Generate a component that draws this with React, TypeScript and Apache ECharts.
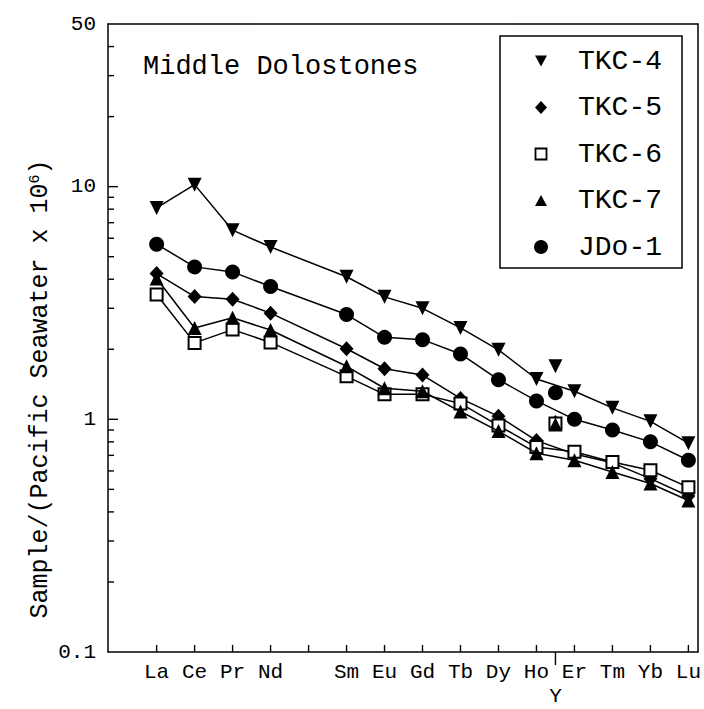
import React, { useEffect, useRef } from 'react';
import * as echarts from 'echarts';

// Order of the elements along the x axis (Pm keeps its slot but carries no data)
const AXIS_ORDER = ['La', 'Ce', 'Pr', 'Nd', 'Pm', 'Sm', 'Eu', 'Gd', 'Tb', 'Dy', 'Ho', 'Er', 'Tm', 'Yb', 'Lu'];
// Elements that are measured and labelled
const REE = ['La', 'Ce', 'Pr', 'Nd', 'Sm', 'Eu', 'Gd', 'Tb', 'Dy', 'Ho', 'Er', 'Tm', 'Yb', 'Lu'];
// Yttrium is plotted between Ho and Er
const Y_POSITION = 11.5;

// Seawater-normalised concentrations
const TKC4 = [8.1, 10.2, 6.5, 5.5, 4.1, 3.36, 3.0, 2.47, 1.99, 1.49, 1.32, 1.12, 0.98, 0.79];
const TKC5 = [4.23, 3.37, 3.28, 2.86, 2.01, 1.65, 1.55, 1.23, 1.03, 0.81, 0.71, 0.65, 0.556, 0.468];
const TKC6 = [3.44, 2.13, 2.43, 2.14, 1.53, 1.28, 1.28, 1.17, 0.94, 0.76, 0.725, 0.656, 0.604, 0.51];
const TKC7 = [4.03, 2.47, 2.73, 2.42, 1.69, 1.36, 1.32, 1.08, 0.89, 0.715, 0.667, 0.594, 0.53, 0.448];
const JDO1 = [5.66, 4.52, 4.3, 3.72, 2.82, 2.25, 2.2, 1.91, 1.48, 1.2, 1.0, 0.9, 0.8, 0.667];

// Yttrium values
const TKC4_Y = 1.69;
const TKC5_Y = 0.97;
const TKC6_Y = 0.96;
const TKC7_Y = 0.95;
const JDO1_Y = 1.3;

const SAMPLE_NAMES = ['TKC-4', 'TKC-5', 'TKC-6', 'TKC-7', 'JDo-1'];

// Log-axis labels and ticks
const MAJOR_TICKS = [0.1, 1, 10, 50];
const MAJOR_LABELS = ['0.1', '1', '10', '50'];
const INNER_MAJOR_TICKS = [1, 10];
const MINOR_TICKS = [0.2, 0.3, 0.4, 0.5, 0.6, 0.7, 0.8, 0.9, 2, 3, 4, 5, 6, 7, 8, 9, 20, 30, 40];

const Y_MIN = 0.1;
const Y_MAX = 50;
const X_MIN = -0.28;
const X_MAX = 15.25;

const FONT = '"Liberation Mono", "DejaVu Sans Mono", monospace';

const DOWN_TRIANGLE = 'path://M0,0L14,0L7,13Z';
const UP_TRIANGLE = 'path://M7,0L14,13L0,13Z';

const MARKERS: Record<string, { symbol: string; size: number | number[]; fill: string; border: number }> = {
  'TKC-4': { symbol: DOWN_TRIANGLE, size: [14, 14], fill: '#000', border: 0 },
  'TKC-5': { symbol: 'diamond', size: [14, 15], fill: '#000', border: 0 },
  'TKC-6': { symbol: 'rect', size: 12, fill: '#fff', border: 2 },
  'TKC-7': { symbol: UP_TRIANGLE, size: [14, 14], fill: '#000', border: 0 },
  'JDo-1': { symbol: 'circle', size: 15, fill: '#000', border: 0 },
};

// Legend glyphs, drawn around the origin of each legend row
function legendGlyph(name: string) {
  const black = { fill: '#000' };
  switch (name) {
    case 'TKC-4':
      return { type: 'polygon', shape: { points: [[-6, -5.5], [6, -5.5], [0, 5.5]] }, style: black };
    case 'TKC-5':
      return { type: 'polygon', shape: { points: [[0, -6.5], [6, 0], [0, 6.5], [-6, 0]] }, style: black };
    case 'TKC-6':
      return {
        type: 'rect',
        shape: { x: -5.5, y: -5.5, width: 11, height: 11 },
        style: { fill: '#fff', stroke: '#000', lineWidth: 1.8 },
      };
    case 'TKC-7':
      return { type: 'polygon', shape: { points: [[0, -5.5], [6, 5.5], [-6, 5.5]] }, style: black };
    default:
      return { type: 'circle', shape: { cx: 0, cy: 0, r: 7 }, style: black };
  }
}

const pos = (el: string) => AXIS_ORDER.indexOf(el) + 1;

// A short tick segment drawn as a two-point line through the axis scales
function tickSegment(id: string, a: number[], b: number[]) {
  return {
    type: 'line',
    id,
    xAxisIndex: 0,
    yAxisIndex: 0,
    data: [a, b],
    symbol: 'none',
    silent: true,
    clip: false,
    z: 1,
    lineStyle: { color: '#000', width: 1.4 },
  };
}

function buildTickSeries() {
  // Tick lengths: 7 px up, 13 px down (log factors), 10 px / 6 px across (axis units)
  const upFactor = Math.pow(10, 7 / 231.5);
  const downFactor = Math.pow(10, -13 / 231.5);
  const pxPerUnit = 590 / (X_MAX - X_MIN);
  const majorLen = 10 / pxPerUnit;
  const minorLen = 6 / pxPerUnit;
  const out: any[] = [];
  AXIS_ORDER.forEach((el, i) => {
    out.push(tickSegment('xt-' + i, [pos(el), Y_MIN], [pos(el), Y_MIN * upFactor]));
  });
  out.push(tickSegment('yt', [Y_POSITION, Y_MIN], [Y_POSITION, Y_MIN * downFactor]));
  INNER_MAJOR_TICKS.forEach((t, i) => {
    out.push(tickSegment('mj-' + i, [X_MIN, t], [X_MIN + majorLen, t]));
  });
  MINOR_TICKS.forEach((t, i) => {
    out.push(tickSegment('mn-' + i, [X_MIN, t], [X_MIN + minorLen, t]));
  });
  return out;
}

function buildOption(): any {
  const values = [TKC4, TKC5, TKC6, TKC7, JDO1];
  const yValues = [TKC4_Y, TKC5_Y, TKC6_Y, TKC7_Y, JDO1_Y];

  const lineSeries = SAMPLE_NAMES.map((name, i) => {
    const m = MARKERS[name];
    return {
      type: 'line',
      name,
      xAxisIndex: 0,
      yAxisIndex: 0,
      data: REE.map((el, j) => [pos(el), values[i][j]]),
      symbol: m.symbol,
      symbolSize: m.size,
      showSymbol: true,
      showAllSymbol: true,
      itemStyle: { color: m.fill, borderColor: '#000', borderWidth: m.border, opacity: 1 },
      lineStyle: { color: '#000', width: 1.5 },
      z: 2 + i,
    };
  });

  const ySeries = SAMPLE_NAMES.map((name, i) => {
    const m = MARKERS[name];
    return {
      type: 'scatter',
      name,
      xAxisIndex: 0,
      yAxisIndex: 0,
      data: [[Y_POSITION, yValues[i]]],
      symbol: m.symbol,
      symbolSize: m.size,
      itemStyle: { color: m.fill, borderColor: '#000', borderWidth: m.border, opacity: 1 },
      z: 2 + i,
    };
  });

  const logMin = Math.log10(Y_MIN);
  const logMax = Math.log10(Y_MAX);

  const labelFor = (v: number) => {
    const k = MAJOR_TICKS.findIndex((t) => Math.abs(Math.log10(t) - v) < 1e-6);
    return k >= 0 ? MAJOR_LABELS[k] : '';
  };

  // Legend box with one row per sample
  const legendTop = 61;
  const legendStep = 46.5;
  const legendRows = SAMPLE_NAMES.map((name, i) => ({
    type: 'group',
    id: 'legend-row-' + i,
    x: 541,
    y: legendTop + i * legendStep,
    children: [
      legendGlyph(name),
      {
        type: 'text',
        x: 37,
        y: 0,
        style: {
          text: name,
          fontFamily: FONT,
          fontSize: 28,
          fill: '#000',
          align: 'left',
          verticalAlign: 'middle',
        },
      },
    ],
  }));

  const frameLine = { show: true, onZero: false, lineStyle: { color: '#000', width: 1.5 } };

  return {
    animation: false,
    backgroundColor: '#fff',
    title: {
      text: 'Middle Dolostones',
      left: 143,
      top: 53,
      padding: 0,
      textStyle: { fontFamily: FONT, fontSize: 27, fontWeight: 'normal', lineHeight: 28, color: '#000' },
    },
    grid: {
      left: 108,
      right: 6,
      top: 24,
      bottom: 57,
      show: false,
    },
    xAxis: [
      {
        type: 'value',
        min: X_MIN,
        max: X_MAX,
        position: 'bottom',
        axisLine: frameLine,
        axisTick: { show: false },
        axisLabel: {
          show: true,
          margin: 10,
          fontFamily: FONT,
          fontSize: 21,
          color: '#000',
          customValues: REE.map((el) => pos(el)),
          formatter: (v: number) => AXIS_ORDER[Math.round(v) - 1] || '',
        },
        splitLine: { show: false },
      },
      {
        type: 'value',
        min: X_MIN,
        max: X_MAX,
        position: 'bottom',
        axisLine: { show: false, onZero: false },
        axisTick: { show: false },
        axisLabel: {
          show: true,
          margin: 34,
          fontFamily: FONT,
          fontSize: 21,
          color: '#000',
          customValues: [Y_POSITION],
          formatter: () => 'Y',
        },
        splitLine: { show: false },
      },
      {
        type: 'value',
        min: X_MIN,
        max: X_MAX,
        position: 'top',
        axisLine: frameLine,
        axisTick: { show: false },
        axisLabel: { show: false },
        splitLine: { show: false },
      },
    ],
    yAxis: [
      {
        type: 'log',
        logBase: 10,
        min: Y_MIN,
        max: Y_MAX,
        axisLine: frameLine,
        axisTick: { show: false },
        axisLabel: { show: false },
        splitLine: { show: false },
      },
      {
        type: 'value',
        min: logMin,
        max: logMax,
        position: 'left',
        axisLine: { show: false, onZero: false },
        axisTick: { show: false },
        axisLabel: {
          show: true,
          margin: 12,
          fontFamily: FONT,
          fontSize: 21,
          color: '#000',
          customValues: MAJOR_TICKS.map((t) => Math.log10(t)),
          formatter: (v: number) => labelFor(v),
        },
        splitLine: { show: false },
      },
      {
        type: 'value',
        min: logMin,
        max: logMax,
        position: 'right',
        axisLine: frameLine,
        axisTick: { show: false },
        axisLabel: { show: false },
        splitLine: { show: false },
      },
    ],
    graphic: [
      {
        type: 'text',
        id: 'y-title',
        x: 40,
        y: 389,
        rotation: Math.PI / 2,
        style: {
          text: 'Sample/(Pacific Seawater x 10{sup|6})',
          fontFamily: FONT,
          fontSize: 25,
          fill: '#000',
          align: 'center',
          verticalAlign: 'middle',
          rich: {
            sup: { fontFamily: FONT, fontSize: 15, verticalAlign: 'top', lineHeight: 15, fill: '#000' },
          },
        },
      },
      {
        type: 'rect',
        id: 'legend-box',
        shape: { x: 500, y: 36, width: 182, height: 232 },
        style: { fill: 'none', stroke: '#000', lineWidth: 1.5 },
      },
      ...legendRows,
    ],
    series: [...buildTickSeries(), ...lineSeries, ...ySeries],
  };
}

export default function App() {
  const ref = useRef<HTMLDivElement>(null);
  useEffect(() => {
    if (!ref.current) return;
    const chart = echarts.init(ref.current, null, { renderer: 'svg' });
    chart.setOption(buildOption());
    return () => chart.dispose();
  }, []);
  return (
    <div
      ref={ref}
      style={{ position: 'fixed', left: 0, top: 0, width: 704, height: 709, background: '#fff' }}
    />
  );
}
